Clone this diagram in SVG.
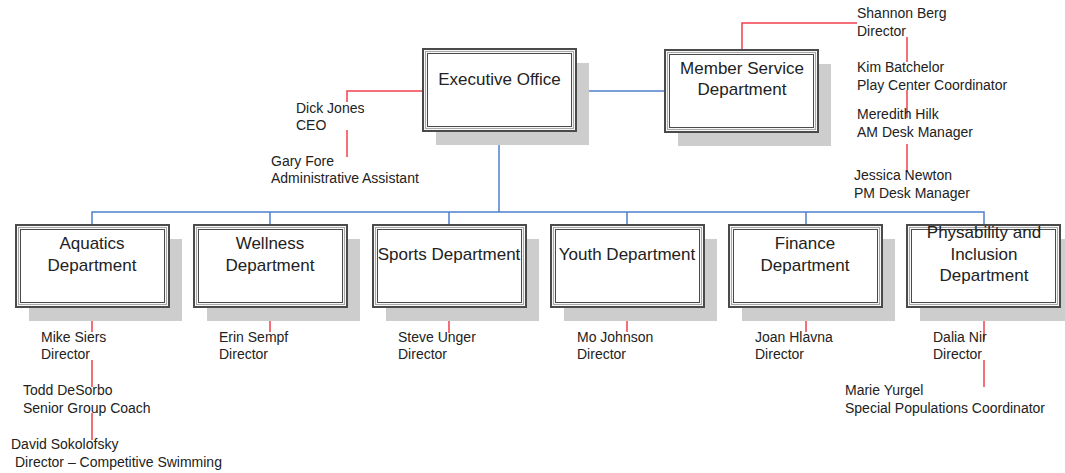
<svg xmlns="http://www.w3.org/2000/svg" width="1065" height="473" viewBox="0 0 1065 473">
<style>
.sh{fill:#cdcdcd}
.bo{fill:#fff;stroke:#4a4a4a;stroke-width:2}
.bm{fill:none;stroke:#a8a8a8;stroke-width:1.2}
.bi{fill:none;stroke:#4a4a4a;stroke-width:1}
.t{font-family:"Liberation Sans",Arial,sans-serif;font-size:17px;fill:#222;text-anchor:middle}
.l{font-family:"Liberation Sans",Arial,sans-serif;font-size:14px;fill:#222}
.blue{fill:none;stroke:#4f7fcb;stroke-width:1.5}
.red{fill:none;stroke:#f2404e;stroke-width:1.5}
</style>
<defs>
<g id="box">
<rect class="sh" x="13" y="14" width="153" height="82"/>
<rect class="bo" x="0" y="0" width="153" height="82"/>
<rect class="bm" x="2.5" y="2.5" width="148" height="77"/>
<rect class="bi" x="4.5" y="4.5" width="144" height="73"/>
</g>
</defs>
<rect width="1065" height="473" fill="#fff"/>
<g id="connectors">
<path class="blue" d="M576,91 H665"/>
<path class="blue" d="M499,131 V212"/>
<path class="blue" d="M92,225 V212 H984 V225"/>
<path class="blue" d="M270,212 V225 M449,212 V225 M627,212 V225 M806,212 V225"/>
<path class="red" d="M423,91 H347 V102 M347,130 V157"/>
<path class="red" d="M742,50 V23 H857"/>
<path class="red" d="M907,37 V62 M907,90 V118 M907,144 V172"/>
<path class="red" d="M92,306 V332 M92,360 V387 M92,413 V440"/>
<path class="red" d="M270,306 V332 M449,306 V333 M627,306 V332 M806,306 V332"/>
<path class="red" d="M984,306 V340 M984,360 V387"/>
</g>
<g id="exec"><use href="#box" x="423" y="49"/><text class="t" x="499.5" y="85">Executive Office</text></g>
<g id="member"><use href="#box" x="665" y="50"/><text class="t" x="742" y="74">Member Service</text><text class="t" x="742" y="95">Department</text></g>
<g id="aquatics"><use href="#box" x="16" y="225"/><text class="t" x="92" y="249">Aquatics</text><text class="t" x="92" y="271">Department</text></g>
<g id="wellness"><use href="#box" x="194" y="225"/><text class="t" x="270" y="249">Wellness</text><text class="t" x="270" y="271">Department</text></g>
<g id="sports"><use href="#box" x="373" y="225"/><text class="t" x="449" y="260">Sports Department</text></g>
<g id="youth"><use href="#box" x="551" y="225"/><text class="t" x="627" y="260">Youth Department</text></g>
<g id="finance"><use href="#box" x="729" y="225"/><text class="t" x="805" y="249">Finance</text><text class="t" x="805" y="271">Department</text></g>
<g id="physability"><use href="#box" x="907" y="225"/><text class="t" x="984" y="238">Physability and</text><text class="t" x="984" y="260">Inclusion</text><text class="t" x="984" y="281">Department</text></g>
<g id="p-dick"><text class="l" x="296" y="113">Dick Jones</text><text class="l" x="296" y="130">CEO</text></g>
<g id="p-gary"><text class="l" x="271" y="166">Gary Fore</text><text class="l" x="271" y="183">Administrative Assistant</text></g>
<g id="p-shannon"><text class="l" x="857" y="18">Shannon Berg</text><text class="l" x="857" y="36">Director</text></g>
<g id="p-kim"><text class="l" x="857" y="72">Kim Batchelor</text><text class="l" x="857" y="90">Play Center Coordinator</text></g>
<g id="p-meredith"><text class="l" x="857" y="119">Meredith Hilk</text><text class="l" x="857" y="137">AM Desk Manager</text></g>
<g id="p-jessica"><text class="l" x="854" y="180">Jessica Newton</text><text class="l" x="854" y="198">PM Desk Manager</text></g>
<g id="p-mike"><text class="l" x="41" y="342">Mike Siers</text><text class="l" x="41" y="359">Director</text></g>
<g id="p-todd"><text class="l" x="23" y="395">Todd DeSorbo</text><text class="l" x="23" y="413">Senior Group Coach</text></g>
<g id="p-david"><text class="l" x="11" y="449">David Sokolofsky</text><text class="l" x="15" y="467">Director – Competitive Swimming</text></g>
<g id="p-erin"><text class="l" x="219" y="342">Erin Sempf</text><text class="l" x="219" y="359">Director</text></g>
<g id="p-steve"><text class="l" x="398" y="342">Steve Unger</text><text class="l" x="398" y="359">Director</text></g>
<g id="p-mo"><text class="l" x="577" y="342">Mo Johnson</text><text class="l" x="577" y="359">Director</text></g>
<g id="p-joan"><text class="l" x="755" y="342">Joan Hlavna</text><text class="l" x="755" y="359">Director</text></g>
<g id="p-dalia"><text class="l" x="933" y="342">Dalia Nir</text><text class="l" x="933" y="359">Director</text></g>
<g id="p-marie"><text class="l" x="845" y="395">Marie Yurgel</text><text class="l" x="845" y="413">Special Populations Coordinator</text></g>
</svg>
